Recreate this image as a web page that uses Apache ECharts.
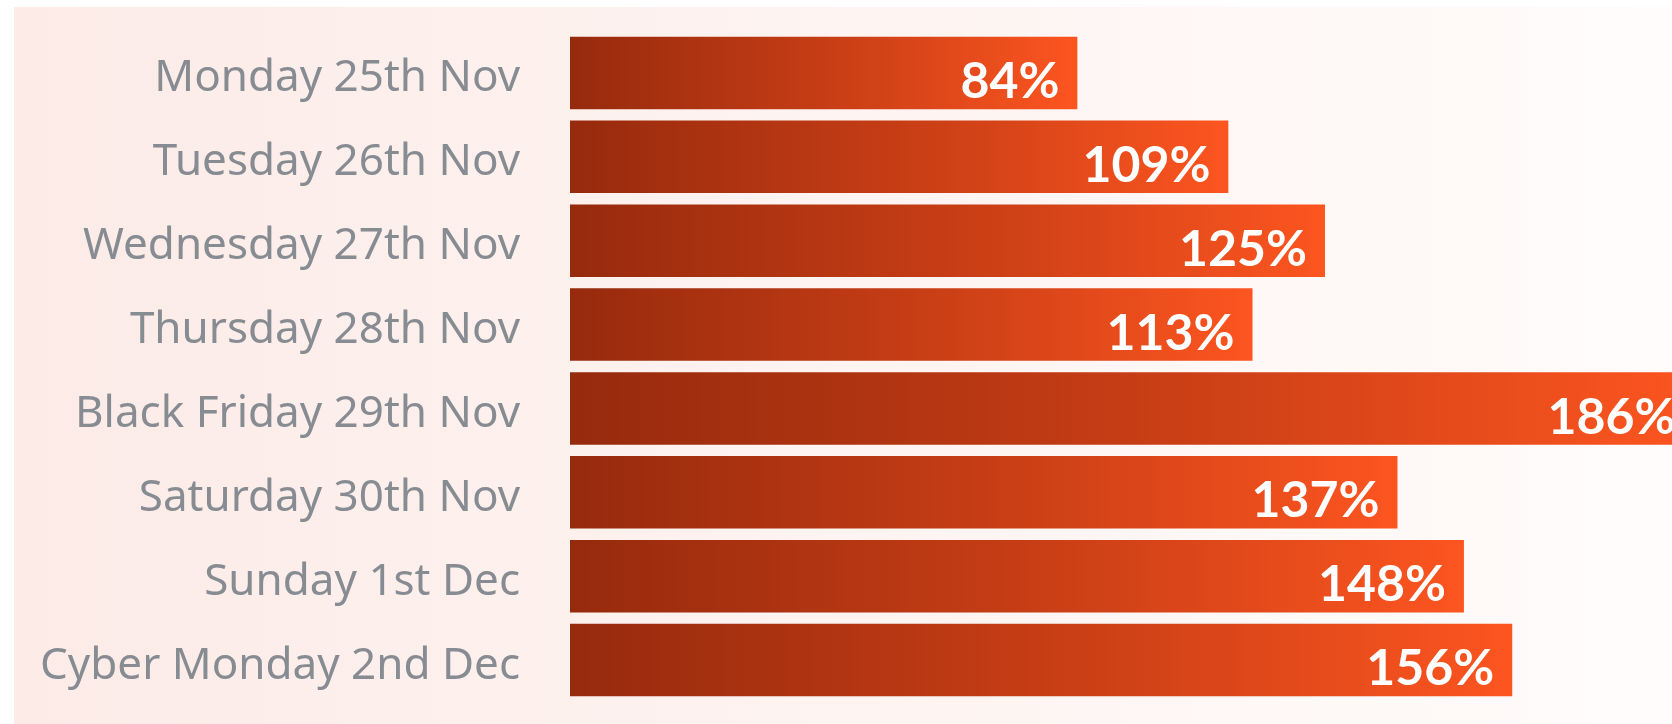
<!DOCTYPE html>
<html>
<head>
<meta charset="utf-8">
<script src="https://cdn.jsdelivr.net/npm/echarts@6/dist/echarts.min.js"></script>
<style>
  html, body { margin: 0; padding: 0; background: #ffffff; overflow: hidden; }
  /* mas ancho que la ventana: la barra de 186% queda cortada a la derecha */
  #container { width: 1800px; height: 724px; }
</style>
</head>
<body>
<div id="container"></div>
<script>
// datos del grafico
var dias = [
    'Monday 25th Nov',
    'Tuesday 26th Nov',
    'Wednesday 27th Nov',
    'Thursday 28th Nov',
    'Black Friday 29th Nov',
    'Saturday 30th Nov',
    'Sunday 1st Dec',
    'Cyber Monday 2nd Dec'
];
var porcentajes = [84, 109, 125, 113, 186, 137, 148, 156];

var chart = echarts.init(document.getElementById('container'), null, { renderer: 'canvas' });

var option = {
    animation: false,
    graphic: [{
        type: 'rect',
        z: -10,
        silent: true,
        shape: { x: 14, y: 7, width: 1658, height: 724 },
        style: {
            fill: new echarts.graphic.LinearGradient(0, 0, 1, 0, [
                { offset: 0, color: '#fcebe7' },
                { offset: 1, color: '#fffcfb' }
            ])
        }
    }],
    grid: {
        left: 570,
        top: 31,
        width: 1208,
        height: 671
    },
    xAxis: {
        type: 'value',
        min: 0,
        max: 200,
        show: false
    },
    yAxis: {
        type: 'category',
        data: dias,
        inverse: true,
        axisLine: { show: false },
        axisTick: { show: false },
        axisLabel: {
            color: '#878c92',
            fontFamily: 'Noto Sans',
            fontSize: 44,
            margin: 50,
            lineHeight: 12,
            // linea vacia arriba para bajar un poco el texto
            formatter: function (v) { return '\n' + v; }
        }
    },
    series: [{
        type: 'bar',
        data: porcentajes,
        barCategoryGap: '13.6%',
        itemStyle: {
            color: new echarts.graphic.LinearGradient(0, 0, 1, 0, [
                { offset: 0, color: '#962a0d' },
                { offset: 0.5, color: '#c63d15' },
                { offset: 1, color: '#fc5520' }
            ])
        },
        label: {
            show: true,
            position: 'insideRight',
            distance: 18,
            offset: [0, 9],
            formatter: '{c}%',
            color: '#ffffff',
            fontFamily: 'Lato',
            fontWeight: 'bold',
            fontSize: 50
        }
    }]
};

chart.setOption(option);
</script>
</body>
</html>
